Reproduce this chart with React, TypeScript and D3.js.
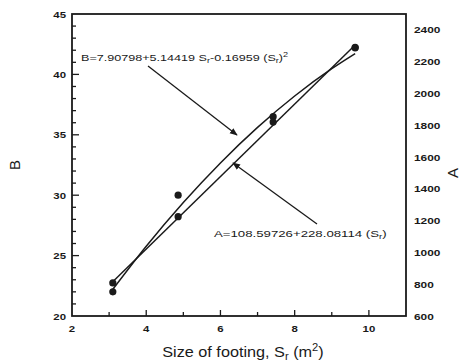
import React, { useRef, useEffect } from "react";
import * as d3 from "d3";

// measured points (size of footing vs B and A)
const footingSize = [3.1, 4.86, 7.42, 9.63];
const bValues = [22.0, 30.0, 36.5, 42.2];
const aValues = [808, 1225, 1820, 2290];

// fitted curves as drawn on the chart
const bFitSize = [3.05, 4, 5, 6, 7, 8, 9, 9.63];
const bFitValues = [22.0, 25.77, 29.39, 32.67, 35.61, 38.21, 40.47, 41.72];
const aFitSize = [3.05, 9.63];
const aFitValues = [804, 2305];

const xTicks = [2, 4, 6, 8, 10];
const bTicks = [20, 25, 30, 35, 40, 45];
const aTicks = [600, 800, 1000, 1200, 1400, 1600, 1800, 2000, 2200, 2400];

const FONT = "'Liberation Sans', Arial, sans-serif";
const INK = "#1a1a1a";

export default function App() {
  const ref = useRef<SVGSVGElement>(null);

  useEffect(() => {
    const width = 461, height = 363;
    const m = { top: 14, right: 55, bottom: 47, left: 72 };

    const svg = d3.select(ref.current);
    svg.selectAll("*").remove();
    svg.attr("width", width).attr("height", height);

    const x = d3.scaleLinear().domain([2, 11]).range([m.left, width - m.right]);
    const yB = d3.scaleLinear().domain([20, 45]).range([height - m.bottom, m.top]);
    const yA = d3.scaleLinear().domain([600, 2500]).range([height - m.bottom, m.top]);

    const x0 = m.left, x1 = width - m.right, y0 = height - m.bottom, y1 = m.top;

    svg.append("defs").append("marker")
      .attr("id", "arr")
      .attr("viewBox", "0 0 10 10")
      .attr("refX", 9).attr("refY", 5)
      .attr("markerWidth", 6).attr("markerHeight", 6)
      .attr("orient", "auto")
      .append("path")
      .attr("d", "M0,1 L10,5 L0,9 z")
      .attr("fill", INK);

    // frame
    svg.append("rect")
      .attr("x", x0).attr("y", y1)
      .attr("width", x1 - x0).attr("height", y0 - y1)
      .attr("fill", "none").attr("stroke", INK).attr("stroke-width", 1.8);

    // bottom ticks (inward)
    const g = svg.append("g").attr("stroke", INK).attr("stroke-width", 1.3);
    d3.range(3, 11, 1).forEach(v => {
      const major = v % 2 === 0;
      g.append("line")
        .attr("x1", x(v)).attr("x2", x(v))
        .attr("y1", y0).attr("y2", y0 - (major ? 6 : 4));
    });
    // left ticks (inward)
    d3.range(21, 45, 1).forEach(v => {
      const major = v % 5 === 0;
      g.append("line")
        .attr("x1", x0).attr("x2", x0 + (major ? 7 : 4))
        .attr("y1", yB(v)).attr("y2", yB(v));
    });

    // scanned text is wide: stretch horizontally
    const stretched = (parent: any, px: number, py: number, sx: number, anchor: string, size: number) =>
      parent.append("text")
        .attr("transform", `translate(${px},${py}) scale(${sx},1)`)
        .attr("text-anchor", anchor)
        .style("font-family", FONT).style("font-size", `${size}px`)
        .attr("fill", INK);

    const lbl = svg.append("g").style("font-weight", 700);
    xTicks.forEach(d => stretched(lbl, x(d), y0 + 16, 1.2, "middle", 9.5).text(d));
    bTicks.forEach(d => stretched(lbl, x0 - 6, yB(d) + 3.5, 1.2, "end", 9.5).text(d));
    aTicks.forEach(d => stretched(lbl, x1 + 8, yA(d) + 3.5, 1.4, "start", 8.5).text(d));

    // axis titles
    svg.append("text")
      .attr("transform", `translate(20,${(y0 + y1) / 2}) rotate(-90)`)
      .attr("text-anchor", "middle")
      .style("font-family", FONT).style("font-size", "15px").attr("fill", INK)
      .text("B");
    svg.append("text")
      .attr("transform", `translate(458,${(y0 + y1) / 2 + 8}) rotate(-90)`)
      .attr("text-anchor", "middle")
      .style("font-family", FONT).style("font-size", "15px").attr("fill", INK)
      .text("A");

    const xt = stretched(svg, (x0 + x1) / 2 + 4, 357, 1.12, "middle", 14.5);
    xt.append("tspan").text("Size of footing, S");
    xt.append("tspan").attr("dy", 3).style("font-size", "10px").text("r");
    xt.append("tspan").attr("dy", -3).text(" (m");
    xt.append("tspan").attr("dy", -6).style("font-size", "10px").text("2");
    xt.append("tspan").attr("dy", 6).text(")");

    // fit curves
    const bLine = d3.line<number>()
      .x((d, i) => x(bFitSize[i]))
      .y(d => yB(d))
      .curve(d3.curveMonotoneX);
    svg.append("path").datum(bFitValues)
      .attr("d", bLine).attr("fill", "none")
      .attr("stroke", INK).attr("stroke-width", 1.5);

    const aLine = d3.line<number>()
      .x((d, i) => x(aFitSize[i]))
      .y(d => yA(d));
    svg.append("path").datum(aFitValues)
      .attr("d", aLine).attr("fill", "none")
      .attr("stroke", INK).attr("stroke-width", 1.5);

    // points
    svg.append("g").selectAll("circle").data(bValues).enter().append("circle")
      .attr("cx", (d, i) => x(footingSize[i])).attr("cy", d => yB(d))
      .attr("r", 3.6).attr("fill", INK);
    svg.append("g").selectAll("circle").data(aValues).enter().append("circle")
      .attr("cx", (d, i) => x(footingSize[i])).attr("cy", d => yA(d))
      .attr("r", 3.6).attr("fill", INK);

    // annotations
    const tb = stretched(svg, 81, 61, 1.4, "start", 9);
    tb.append("tspan").text("B=7.90798+5.14419 S");
    tb.append("tspan").attr("dy", 2).style("font-size", "6.5px").text("r");
    tb.append("tspan").attr("dy", -2).text("-0.16959 (S");
    tb.append("tspan").attr("dy", 2).style("font-size", "6.5px").text("r");
    tb.append("tspan").attr("dy", -2).text(")");
    tb.append("tspan").attr("dy", -4).style("font-size", "6.5px").text("2");

    const ta = stretched(svg, 214, 237, 1.47, "start", 9);
    ta.append("tspan").text("A=108.59726+228.08114 (S");
    ta.append("tspan").attr("dy", 2).style("font-size", "6.5px").text("r");
    ta.append("tspan").attr("dy", -2).text(")");

    svg.append("line")
      .attr("x1", 148).attr("y1", 66).attr("x2", 237).attr("y2", 135)
      .attr("stroke", INK).attr("stroke-width", 1.3).attr("marker-end", "url(#arr)");
    svg.append("line")
      .attr("x1", 317).attr("y1", 224).attr("x2", 233).attr("y2", 163)
      .attr("stroke", INK).attr("stroke-width", 1.3).attr("marker-end", "url(#arr)");
  }, []);

  return (
    <div style={{ position: "absolute", left: 0, top: 0, background: "#fff" }}>
      <svg ref={ref} width={461} height={363} style={{ display: "block" }}></svg>
    </div>
  );
}
